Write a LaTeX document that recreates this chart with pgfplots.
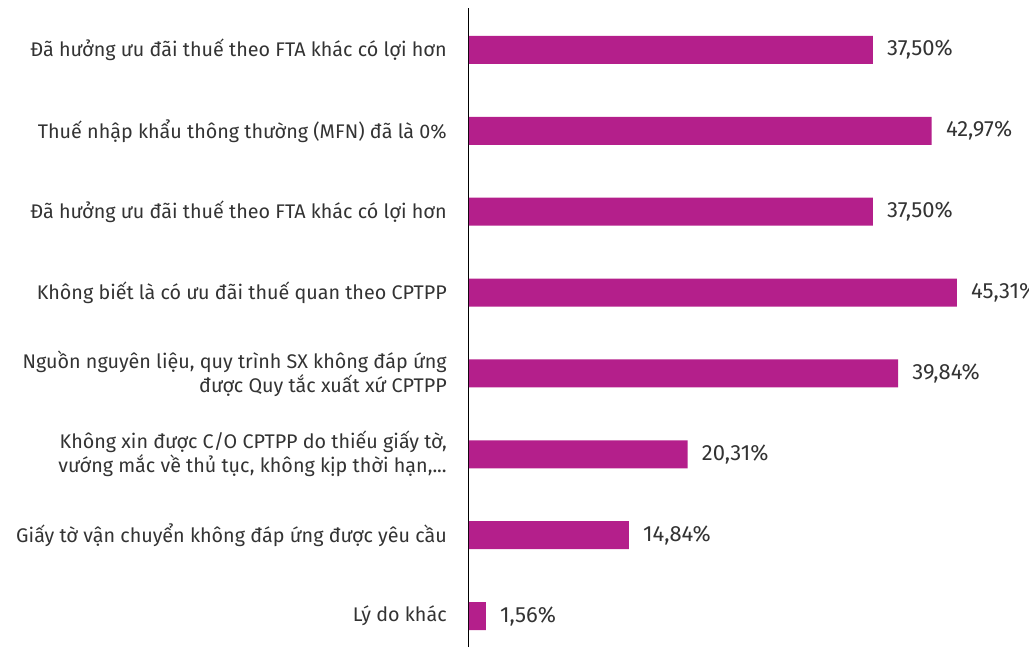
\documentclass[border=0pt]{standalone}
\usepackage{fontspec}
\setmainfont{Fira Sans}
\usepackage{pgfplots}
\pgfplotsset{compat=1.18}
\definecolor{barmag}{HTML}{B41F8B}
\definecolor{txt}{HTML}{333333}
\newcommand\lblC{Không xin được C/O CPTPP do thiếu giấy tờ,\\vướng mắc về thủ tục, không kịp thời hạn,...}
\newcommand\lblD{Nguồn nguyên liệu, quy trình SX không đáp ứng\\được Quy tắc xuất xứ CPTPP}
\begin{document}
\begin{tikzpicture}
\begin{axis}[
    name=ax, at={(0pt,0pt)}, anchor=south west,
    scale only axis,
    width=420pt, height=479.25pt,
    xbar, bar width=21pt,
    xmin=0, xmax=52,
    ymin=0.617, ymax=8.519,
    axis x line=none,
    axis y line=left,
    y axis line style={-, draw=black, line width=0.75pt},
    clip=false,
    ytick={1,2,3,4,5,6,7,8},
    major tick length=0pt,
    yticklabels={
        {Lý do khác},
        {Giấy tờ vận chuyển không đáp ứng được yêu cầu},
        \lblC,
        \lblD,
        {Không biết là có ưu đãi thuế quan theo CPTPP},
        {Đã hưởng ưu đãi thuế theo FTA khác có lợi hơn},
        {Thuế nhập khẩu thông thường (MFN) đã là 0\%},
        {Đã hưởng ưu đãi thuế theo FTA khác có lợi hơn}},
    yticklabel style={align=right, text=txt, inner xsep=0pt, xshift=-16.5pt,
        font=\fontsize{14.8}{18}\selectfont},
    nodes near coords,
    nodes near coords align=horizontal,
    point meta=x,
    nodes near coords={\pgfmathprintnumber{\pgfplotspointmeta}\%},
    nodes near coords style={anchor=west, inner xsep=0pt, xshift=10.5pt, text=txt,
        font=\fontsize{16.5}{18}\selectfont,
        /pgf/number format/.cd, fixed, fixed zerofill, precision=2, use comma, assume math mode=true},
]
\addplot[fill=barmag, draw=none] coordinates {
    (37.50,8) (42.97,7) (37.50,6) (45.31,5) (39.84,4) (20.31,3) (14.84,2) (1.56,1)};
\end{axis}
\pgfresetboundingbox
\path (-351.75pt,0pt) rectangle (420pt,485.25pt);
\end{tikzpicture}
\end{document}
